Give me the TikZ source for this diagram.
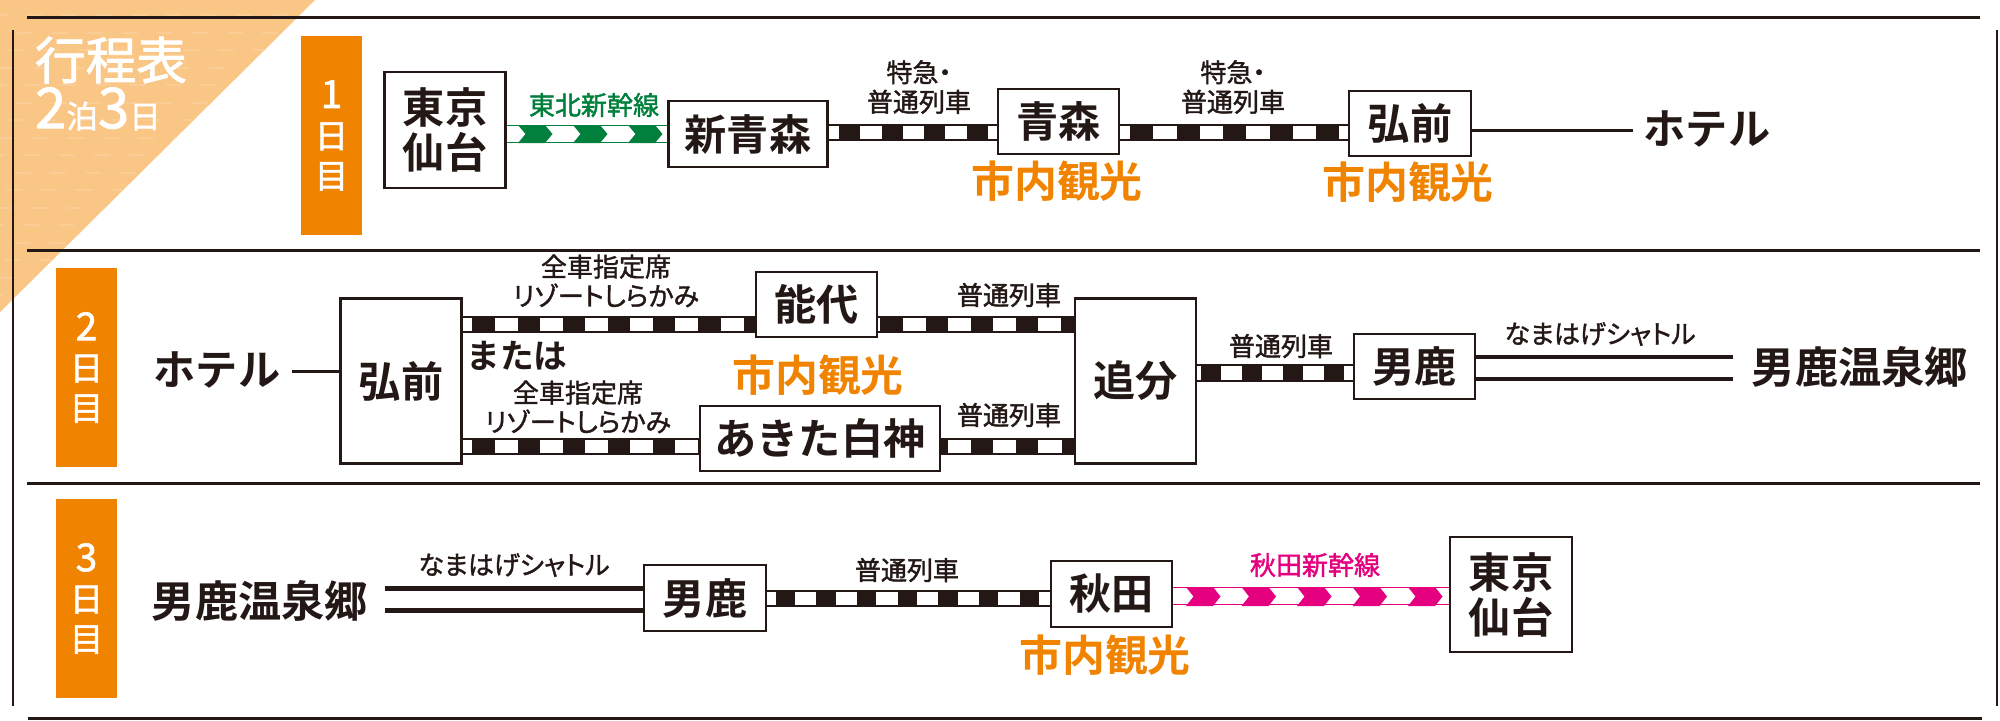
\documentclass[tikz,border=0pt]{standalone}
\usepackage{fontspec}
\setmainfont{Noto Sans CJK JP}[FakeBold=1.6]
\newfontfamily\kanafont{Noto Sans CJK JP}[RawFeature={+palt},FakeBold=1.4]
\newfontfamily\titlefont{Noto Sans CJK JP}[FakeBold=1.6]
\newfontfamily\heavyfont{Noto Sans CJK JP Bold}
\usetikzlibrary{shapes,arrows}
\definecolor{inkblack}{HTML}{231815}
\definecolor{tagorange}{HTML}{F08300}
\definecolor{paleorange}{HTML}{FAC685}
\definecolor{dashorange}{HTML}{FBCD96}
\definecolor{shingreen}{HTML}{00803C}
\definecolor{shinpink}{HTML}{E4007F}
\tikzset{
  daytag/.style={shape=rectangle, fill=tagorange, text=white, minimum width=0.61cm, minimum height=1.99cm, inner sep=0pt, align=center, font=\titlefont\fontsize{9.5pt}{11.4pt}\selectfont},
  stationbox/.style={shape=rectangle, draw=inkblack, fill=white, line width=0.025cm, inner sep=0pt, align=center, text=inkblack, font=\heavyfont\fontsize{12pt}{12.8pt}\selectfont},
  placename/.style={text=inkblack, inner sep=0pt, font=\heavyfont\fontsize{12pt}{14pt}\selectfont},
  onsenname/.style={text=inkblack, inner sep=0pt, font=\heavyfont\fontsize{12.3pt}{14pt}\selectfont},
  sightseeing/.style={text=tagorange, inner sep=0pt, font=\heavyfont\fontsize{12.2pt}{14pt}\selectfont},
  linelabel/.style={text=inkblack, inner sep=0pt, align=center, font=\fontsize{7.4pt}{8.4pt}\selectfont},
  kanalabel/.style={text=inkblack, inner sep=0pt, align=center, font=\kanafont\fontsize{7.4pt}{8.3pt}\selectfont},
  plainline/.style={draw=inkblack, line width=0.03cm},
  shuttleline/.style={draw=inkblack, line width=0.045cm, double=white, double distance=0.175cm},
  localrail/.style n args={3}{draw=inkblack, line width=0.175cm, postaction={draw=white, line width=0.135cm, dash pattern=on #1 off #2, dash phase=#3}},
  shinrail/.style={draw=#1, line width=0.012cm, double=white, double distance=0.16cm},
  chevron/.style={fill=#1},
  rule/.style={draw=inkblack, line width=0.03cm},
  siderule/.style={draw=inkblack, line width=0.024cm},
}
\begin{document}
\begin{tikzpicture}[x=0.01cm,y=-0.01cm]
\useasboundingbox (0,0) rectangle (2000,720);

% corner
\fill [paleorange] (0,0) -- (315,0) -- (0,312) -- cycle;
\begin{scope}
\clip (0,0) -- (315,0) -- (0,312) -- cycle;
\foreach \y [count=\i] in {15,33,50,68,85,103,120,138,155,173,190,208,225,243,260,278,295}
  \draw [dashorange, line width=0.02cm, dash pattern=on 0.16cm off 0.19cm, dash phase=\i*0.09cm] (0,\y) -- (320,\y);
\end{scope}

% frame
\coordinate (framea) at (27,17);
\coordinate (frameb) at (1980,17);
\coordinate (framec) at (27,250);
\coordinate (framed) at (1980,250);
\coordinate (framee) at (27,483);
\coordinate (framef) at (1980,483);
\coordinate (frameg) at (28,718);
\coordinate (frameh) at (1982,718);
\coordinate (framei) at (13,30);
\coordinate (framej) at (13,706);
\coordinate (framek) at (1997,30);
\coordinate (framel) at (1997,706);
\draw [rule] (framea) -- (frameb);
\draw [rule] (framec) -- (framed);
\draw [rule] (framee) -- (framef);
\draw [rule] (frameg) -- (frameh);
\draw [siderule] (framei) -- (framej);
\draw [siderule] (framek) -- (framel);

\node (titlea) at (111,60) [text=white, inner sep=0pt, font=\titlefont\fontsize{14.4pt}{16pt}\selectfont]{行程表};
\node (titleb) at (98,109) [text=white, inner sep=0pt, font=\titlefont\fontsize{9pt}{16pt}\selectfont]{{\fontsize{16pt}{16pt}\selectfont 2}泊{\fontsize{16pt}{16pt}\selectfont 3}日};

% day tags
\node (daya) at (331.5,135.5) [daytag]{{\fontsize{11pt}{11.4pt}\selectfont 1}\\日\\目};
\node (dayb) at (86.5,367.5) [daytag]{{\fontsize{11pt}{11.4pt}\selectfont 2}\\日\\目};
\node (dayc) at (86.5,598.5) [daytag]{{\fontsize{11pt}{11.4pt}\selectfont 3}\\日\\目};

% first day
\coordinate (raila) at (0,132.5);
\coordinate (railg) at (0,134);
\node (tokyoa) at (445,130) [stationbox, minimum width=1.21cm, minimum height=1.16cm]{東京\\仙台};
\node (shinaomori) at (748,134) [stationbox, minimum width=1.59cm, minimum height=0.66cm]{新青森};
\node (aomori) at (1058.5,121.5) [stationbox, minimum width=1.21cm, minimum height=0.65cm]{青森};
\node (hirosakia) at (1410,123.5) [stationbox, minimum width=1.22cm, minimum height=0.65cm]{弘前};
\node (hotela) at (1707,129) [placename]{ホテル};
\coordinate (hotelaend) at (1633,130);

\draw [shinrail=shingreen] (tokyoa.east |- railg) -- (shinaomori.west |- railg);
\foreach \x in {518,573,628}
  \fill [chevron=shingreen] (\x,125) -- ++(27,0) -- ++(7.5,9) -- ++(-7.5,9) -- ++(-27,0) -- ++(7.5,-9) -- cycle;
\draw [localrail={0.215cm}{0.21cm}{0.11cm}] (shinaomori.east |- raila) -- (aomori.west |- raila);
\draw [localrail={0.235cm}{0.23cm}{0.135cm}] (aomori.east |- raila) -- (hirosakia.west |- raila);
\draw [plainline] (hirosakia.east |- hotelaend) -- (hotelaend);

\node (labela) at (594,105) [linelabel, text=shingreen]{東北新幹線};
\node (labelb) at (919,87) [linelabel]{{\kanafont 特急・}\\普通列車};
\node (labelc) at (1233,87) [linelabel]{{\kanafont 特急・}\\普通列車};
\node (sighta) at (1057,181) [sightseeing]{市内観光};
\node (sightb) at (1408,182) [sightseeing]{市内観光};

% second day
\coordinate (railb) at (0,324.5);
\coordinate (railc) at (0,446.5);
\coordinate (raild) at (0,373);
\node (hotelb) at (217,370) [placename]{ホテル};
\coordinate (hotelbend) at (292,371);
\node (hirosakib) at (401,381) [stationbox, minimum width=1.21cm, minimum height=1.65cm]{弘前};
\node (noshiro) at (816.5,304.5) [stationbox, minimum width=1.21cm, minimum height=0.65cm]{能代};
\node (shirakami) at (820,438.5) [stationbox, minimum width=2.4cm, minimum height=0.65cm]{あきた白神};
\node (oiwake) at (1135.5,381) [stationbox, minimum width=1.21cm, minimum height=1.65cm]{追分};
\node (ogaa) at (1414.5,366.5) [stationbox, minimum width=1.21cm, minimum height=0.65cm]{男鹿};
\node (onsena) at (1860,367) [onsenname]{男鹿温泉郷};
\coordinate (onsenaend) at (1733,368);

\draw [plainline] (hotelbend) -- (hotelbend -| hirosakib.west);
\draw [localrail={0.23cm}{0.222cm}{0.135cm}] (hirosakib.east |- railb) -- (noshiro.west |- railb);
\draw [localrail={0.23cm}{0.222cm}{0.21cm}] (noshiro.east |- railb) -- (oiwake.west |- railb);
\draw [localrail={0.23cm}{0.222cm}{0.135cm}] (hirosakib.east |- railc) -- (shirakami.west |- railc);
\draw [localrail={0.23cm}{0.222cm}{0.385cm}] (shirakami.east |- railc) -- (oiwake.west |- railc);
\draw [localrail={0.21cm}{0.2cm}{0.17cm}] (oiwake.east |- raild) -- (ogaa.west |- raild);
\draw [shuttleline] (ogaa.east |- onsenaend) -- (onsenaend);

\node (labeld) at (606,281) [kanalabel]{全車指定席\\リゾートしらかみ};
\node (labele) at (1009,295) [linelabel]{普通列車};
\node (labelf) at (578,407) [kanalabel]{全車指定席\\リゾートしらかみ};
\node (labelg) at (1009,415) [linelabel]{普通列車};
\node (labelh) at (1281,346) [linelabel]{普通列車};
\node (labeli) at (1600,334) [kanalabel]{なまはげシャトル};
\node (matawa) at (517,356) [placename, font=\heavyfont\fontsize{9.6pt}{12pt}\selectfont]{または};
\node (sightc) at (818,375) [sightseeing]{市内観光};

% third day
\coordinate (raile) at (0,598.5);
\coordinate (railf) at (0,596);
\coordinate (onsenbend) at (385,599.5);
\node (onsenb) at (260,601) [onsenname]{男鹿温泉郷};
\node (ogab) at (705,598) [stationbox, minimum width=1.22cm, minimum height=0.66cm]{男鹿};
\node (akita) at (1111.5,594) [stationbox, minimum width=1.21cm, minimum height=0.66cm]{秋田};
\node (tokyob) at (1511,594.5) [stationbox, minimum width=1.22cm, minimum height=1.15cm]{東京\\仙台};

\draw [shuttleline] (onsenbend) -- (onsenbend -| ogab.west);
\draw [localrail={0.214cm}{0.192cm}{0.129cm}] (ogab.east |- raile) -- (akita.west |- raile);
\draw [shinrail=shinpink] (akita.east |- railf) -- (tokyob.west |- railf);
\foreach \x in {1186,1241.5,1297,1352.5,1408}
  \fill [chevron=shinpink] (\x,587) -- ++(27,0) -- ++(7.5,9.5) -- ++(-7.5,9.5) -- ++(-27,0) -- ++(7.5,-9.5) -- cycle;

\node (labelj) at (514,565) [kanalabel]{なまはげシャトル};
\node (labelk) at (907,570) [linelabel]{普通列車};
\node (labell) at (1315,565) [linelabel, text=shinpink]{秋田新幹線};
\node (sightd) at (1105,655) [sightseeing]{市内観光};
\end{tikzpicture}
\end{document}
